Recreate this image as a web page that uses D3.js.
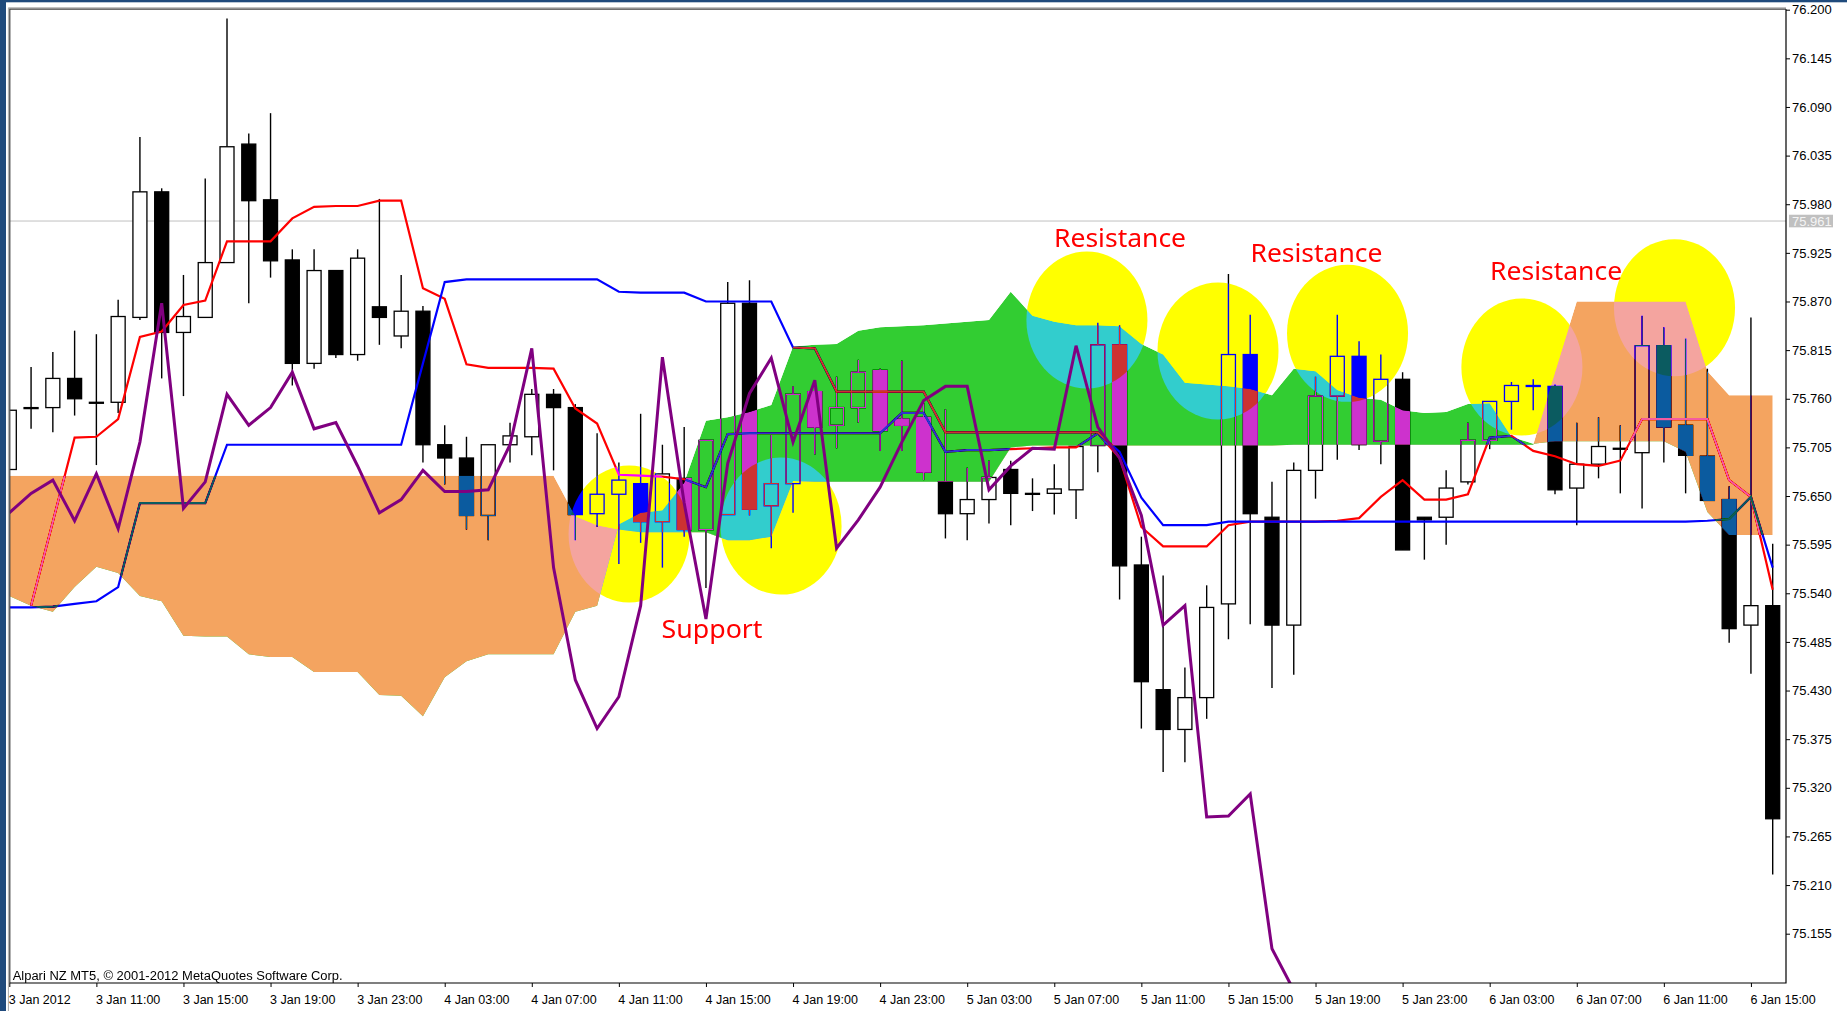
<!DOCTYPE html>
<html>
<head>
<meta charset="utf-8">
<script src="https://cdn.jsdelivr.net/npm/d3@7"></script>
<style>
  html, body { margin: 0; padding: 0; background: #fff; }
  svg { display: block; }
</style>
</head>
<body>
<svg id="chart" width="1847" height="1011"></svg>
<script>
const timeLabels = ['3 Jan 2012', '3 Jan 11:00', '3 Jan 15:00', '3 Jan 19:00', '3 Jan 23:00',
  '4 Jan 03:00', '4 Jan 07:00', '4 Jan 11:00', '4 Jan 15:00', '4 Jan 19:00', '4 Jan 23:00',
  '5 Jan 03:00', '5 Jan 07:00', '5 Jan 11:00', '5 Jan 15:00', '5 Jan 19:00', '5 Jan 23:00',
  '6 Jan 03:00', '6 Jan 07:00', '6 Jan 11:00', '6 Jan 15:00'];
const labelStep = 4; // one time label every 4 hourly bars

const priceTicks = [76.200, 76.145, 76.090, 76.035, 75.980, 75.925, 75.870, 75.815, 75.760, 75.705,
  75.650, 75.595, 75.540, 75.485, 75.430, 75.375, 75.320, 75.265, 75.210, 75.155];
const lastPrice = 75.961;

const opens = [75.680, 75.750, 75.750, 75.783, 75.756, 75.756, 75.852, 75.994, 75.835, 75.852,
  75.914, 76.048, 75.985, 75.917, 75.800, 75.905, 75.810, 75.864, 75.831, 75.859,
  75.708, 75.693, 75.628, 75.708, 75.717, 75.765, 75.750, 75.630, 75.652, 75.664,
  75.621, 75.670, 75.612, 75.629, 75.868, 75.639, 75.664, 75.768, 75.730, 75.750,
  75.792, 75.737, 75.739, 75.666, 75.630, 75.646, 75.680, 75.653, 75.653, 75.657,
  75.707, 75.821, 75.572, 75.431, 75.386, 75.422, 75.528, 75.810, 75.626, 75.504,
  75.679, 75.763, 75.808, 75.712, 75.782, 75.626, 75.626, 75.666, 75.713, 75.757,
  75.775, 75.774, 75.659, 75.686, 75.704, 75.699, 75.820, 75.730, 75.695, 75.646,
  75.504, 75.526];
const highs = [75.747, 75.796, 75.813, 75.837, 75.833, 75.872, 76.056, 75.998, 75.900, 76.009,
  76.190, 76.060, 76.083, 75.929, 75.929, 75.905, 75.929, 75.986, 75.900, 75.865,
  75.730, 75.717, 75.708, 75.733, 75.771, 75.771, 75.754, 75.721, 75.688, 75.743,
  75.708, 75.728, 75.713, 75.892, 75.894, 75.719, 75.774, 75.781, 75.785, 75.804,
  75.794, 75.803, 75.755, 75.748, 75.682, 75.690, 75.690, 75.670, 75.686, 75.706,
  75.846, 75.843, 75.604, 75.560, 75.456, 75.549, 75.901, 75.855, 75.666, 75.688,
  75.785, 75.855, 75.825, 75.810, 75.790, 75.626, 75.679, 75.733, 75.757, 75.779,
  75.782, 75.776, 75.733, 75.739, 75.730, 75.854, 75.841, 75.828, 75.794, 75.661,
  75.852, 75.596];
const lows = [75.680, 75.726, 75.722, 75.741, 75.685, 75.744, 75.849, 75.783, 75.763, 75.852,
  75.914, 75.868, 75.897, 75.775, 75.794, 75.806, 75.803, 75.821, 75.817, 75.688,
  75.663, 75.612, 75.600, 75.688, 75.696, 75.679, 75.600, 75.615, 75.573, 75.597,
  75.569, 75.604, 75.546, 75.629, 75.628, 75.591, 75.631, 75.697, 75.704, 75.733,
  75.701, 75.701, 75.668, 75.602, 75.600, 75.619, 75.617, 75.633, 75.629, 75.624,
  75.677, 75.533, 75.387, 75.338, 75.349, 75.398, 75.488, 75.505, 75.433, 75.448,
  75.647, 75.691, 75.702, 75.686, 75.589, 75.578, 75.595, 75.663, 75.703, 75.725,
  75.747, 75.652, 75.617, 75.670, 75.653, 75.636, 75.688, 75.653, 75.645, 75.484,
  75.449, 75.222];
const closes = [75.747, 75.750, 75.783, 75.760, 75.756, 75.853, 75.994, 75.835, 75.853, 75.914,
  76.045, 75.984, 75.916, 75.800, 75.905, 75.810, 75.919, 75.852, 75.859, 75.708,
  75.693, 75.628, 75.708, 75.718, 75.765, 75.750, 75.629, 75.652, 75.668, 75.621,
  75.675, 75.612, 75.713, 75.868, 75.635, 75.664, 75.765, 75.728, 75.750, 75.790,
  75.724, 75.730, 75.677, 75.630, 75.646, 75.671, 75.653, 75.653, 75.658, 75.706,
  75.821, 75.571, 75.440, 75.386, 75.422, 75.524, 75.810, 75.630, 75.504, 75.679,
  75.763, 75.808, 75.708, 75.782, 75.589, 75.623, 75.659, 75.713, 75.757, 75.775,
  75.775, 75.657, 75.686, 75.706, 75.704, 75.820, 75.728, 75.696, 75.645, 75.500,
  75.526, 75.285];

// Ichimoku lines, one value per bar
const tenkan = [null, 75.526, 75.621, 75.716, 75.717, 75.737, 75.830, 75.836, 75.866, 75.871,
  75.938, 75.938, 75.938, 75.964, 75.977, 75.978, 75.978, 75.984, 75.984, 75.885,
  75.873, 75.799, 75.795, 75.795, 75.795, 75.794, 75.749, 75.732, 75.674, 75.673,
  75.672, 75.669, 75.660, 75.720, 75.721, 75.721, 75.721, 75.721, 75.721, 75.721,
  75.721, 75.744, 75.744, 75.700, 75.702, 75.702, 75.703, 75.704, 75.705, 75.705,
  75.721, 75.693, 75.615, 75.593, 75.593, 75.593, 75.617, 75.621, 75.621, 75.621,
  75.621, 75.622, 75.625, 75.649, 75.668, 75.646, 75.646, 75.652, 75.716, 75.718,
  75.701, 75.695, 75.686, 75.684, 75.690, 75.737, 75.737, 75.737, 75.737, 75.668,
  75.649, 75.544];
const kijun = [75.524, 75.524, 75.525, 75.528, 75.531, 75.547, 75.642, 75.642, 75.642, 75.642,
  75.708, 75.708, 75.708, 75.708, 75.708, 75.708, 75.708, 75.708, 75.708, 75.800,
  75.892, 75.895, 75.895, 75.895, 75.895, 75.895, 75.895, 75.895, 75.881, 75.880,
  75.880, 75.880, 75.870, 75.870, 75.870, 75.870, 75.818, 75.817, 75.768, 75.768,
  75.768, 75.768, 75.768, 75.722, 75.722, 75.722, 75.722, 75.722, 75.722, 75.722,
  75.722, 75.700, 75.648, 75.617, 75.617, 75.617, 75.621, 75.621, 75.621, 75.621,
  75.621, 75.621, 75.621, 75.621, 75.621, 75.621, 75.621, 75.621, 75.621, 75.621,
  75.621, 75.621, 75.621, 75.621, 75.621, 75.621, 75.621, 75.621, 75.622, 75.624,
  75.649, 75.569];
const chikou = [75.631, 75.653, 75.668, 75.622, 75.675, 75.613, 75.711, 75.868, 75.636, 75.666,
  75.765, 75.730, 75.750, 75.790, 75.726, 75.733, 75.684, 75.631, 75.646, 75.679,
  75.655, 75.655, 75.657, 75.708, 75.817, 75.569, 75.442, 75.387, 75.423, 75.526,
  75.807, 75.642, 75.511, 75.687, 75.766, 75.806, 75.711, 75.781, 75.591, 75.623,
  75.660, 75.711, 75.758, 75.774, 75.774, 75.657, 75.684, 75.704, 75.703, 75.820,
  75.728, 75.693, 75.628, 75.504, 75.526, 75.287, 75.288, 75.313, 75.138, 75.091];
const spanA = [75.537, 75.526, 75.519, 75.547, 75.570, 75.563, 75.537, 75.531, 75.492, 75.491,
  75.491, 75.471, 75.468, 75.468, 75.451, 75.451, 75.451, 75.425, 75.424, 75.401,
  75.445, 75.463, 75.471, 75.471, 75.471, 75.471, 75.519, 75.526, 75.618, 75.631,
  75.634, 75.665, 75.735, 75.739, 75.745, 75.753, 75.819, 75.821, 75.822, 75.837,
  75.841, 75.842, 75.843, 75.845, 75.847, 75.849, 75.881, 75.854, 75.847, 75.843,
  75.843, 75.842, 75.822, 75.810, 75.778, 75.776, 75.774, 75.771, 75.764, 75.794,
  75.791, 75.770, 75.761, 75.759, 75.747, 75.744, 75.745, 75.754, 75.755, 75.717,
  75.709, 75.712, 75.712, 75.712, 75.712, 75.712, 75.712, 75.700, 75.632, 75.606,
  75.606, 75.606];
const spanB = [75.673, 75.673, 75.673, 75.673, 75.673, 75.673, 75.673, 75.673, 75.673, 75.673,
  75.673, 75.673, 75.673, 75.673, 75.673, 75.673, 75.673, 75.673, 75.673, 75.673,
  75.673, 75.673, 75.673, 75.673, 75.673, 75.673, 75.627, 75.617, 75.612, 75.609,
  75.609, 75.609, 75.609, 75.600, 75.600, 75.604, 75.667, 75.666, 75.666, 75.666,
  75.666, 75.666, 75.666, 75.666, 75.666, 75.666, 75.705, 75.707, 75.707, 75.707,
  75.707, 75.707, 75.707, 75.707, 75.707, 75.707, 75.707, 75.707, 75.707, 75.708,
  75.708, 75.708, 75.708, 75.708, 75.708, 75.708, 75.708, 75.708, 75.708, 75.708,
  75.708, 75.790, 75.870, 75.870, 75.870, 75.870, 75.870, 75.870, 75.791, 75.764,
  75.764, 75.764];

// drawn ellipses (bar index / price anchored) and their captions
const zoneBars = [28.47, 35.45, 49.50, 55.52, 61.47, 69.48, 76.49];
const zonePrices = [75.607, 75.616, 75.849, 75.814, 75.834, 75.796, 75.863];
const zoneHalfBars = 2.78;
const zoneHalfPrice = 0.0775;
const notes = ['Resistance', 'Resistance', 'Resistance', 'Support'];
const noteBars = [47.99, 57.01, 68.02, 29.96];
const notePrices = [75.932, 75.915, 75.894, 75.489];

const W = 1847, H = 1011;
const plot = { left: 9.8, right: 1786, top: 9.2, bottom: 983 };
const axisFont = '"Liberation Sans", Arial, sans-serif';

const x = d3.scaleLinear().domain([0, opens.length - 1]).range([9.3, 1772.7]);
const y = d3.scaleLinear().domain([75.155, 76.200]).range([933.7, 9.7]);

const svg = d3.select('#chart');
svg.append('rect').attr('width', W).attr('height', H).attr('fill', '#fff');

// window frame
svg.append('rect').attr('x', 0).attr('y', 0).attr('width', W).attr('height', 2.3).attr('fill', '#1f4a7c');
svg.append('rect').attr('x', 0).attr('y', 0).attr('width', 6).attr('height', H).attr('fill', '#1f4a7c');

const defs = svg.append('defs');
defs.append('clipPath').attr('id', 'plotClip')
  .append('rect')
  .attr('x', plot.left).attr('y', plot.top)
  .attr('width', plot.right - plot.left).attr('height', plot.bottom - plot.top);

const below = d3.area().x((d, i) => x(i)).y0(plot.bottom + 100).y1(d => y(d));
defs.append('clipPath').attr('id', 'clipA').append('path').attr('d', below(spanA));
defs.append('clipPath').attr('id', 'clipB').append('path').attr('d', below(spanB));

const g = svg.append('g').attr('clip-path', 'url(#plotClip)');
g.append('rect')
  .attr('x', plot.left).attr('y', plot.top)
  .attr('width', plot.right - plot.left).attr('height', plot.bottom - plot.top)
  .attr('fill', '#fff');

// last price line
g.append('line')
  .attr('x1', plot.left).attr('x2', plot.right)
  .attr('y1', y(lastPrice)).attr('y2', y(lastPrice))
  .attr('stroke', '#c0c0c0').attr('stroke-width', 1);

// candles
const bars = opens.map((o, i) => ({ i, o, h: highs[i], l: lows[i], c: closes[i] }));
const bodyWidth = 14;

g.selectAll('.wick')
  .data(bars)
  .enter()
  .append('line')
  .attr('class', 'wick')
  .attr('x1', d => x(d.i)).attr('x2', d => x(d.i))
  .attr('y1', d => y(d.h)).attr('y2', d => y(d.l))
  .attr('stroke', '#000').attr('stroke-width', 1.4);

g.selectAll('.body')
  .data(bars)
  .enter()
  .append('rect')
  .attr('class', 'body')
  .attr('x', d => x(d.i) - bodyWidth / 2)
  .attr('width', bodyWidth)
  .attr('y', d => y(Math.max(d.o, d.c)))
  .attr('height', d => Math.max(1, Math.abs(y(d.o) - y(d.c))))
  .attr('fill', d => d.c < d.o ? '#000' : '#fff')
  .attr('stroke', '#000')
  .attr('stroke-width', 1.3);

const line = d3.line()
  .defined(d => d != null)
  .x((d, i) => x(i))
  .y(d => y(d));

g.append('path').datum(tenkan).attr('d', line)
  .attr('fill', 'none').attr('stroke', '#ff0000').attr('stroke-width', 2.2);
g.append('path').datum(kijun).attr('d', line)
  .attr('fill', 'none').attr('stroke', '#0000ff').attr('stroke-width', 2.2);

// cloud, painted the MT5 way (xor): inverse colour + difference blend
const band = d3.area().x((d, i) => x(i)).y0((d, i) => y(spanB[i])).y1(d => y(d));

g.append('path').datum(spanA).attr('d', band)
  .attr('clip-path', 'url(#clipA)')
  .attr('fill', '#cd32cd')
  .style('mix-blend-mode', 'difference');

g.append('path').datum(spanA).attr('d', band)
  .attr('clip-path', 'url(#clipB)')
  .attr('fill', '#0b5b9f')
  .style('mix-blend-mode', 'difference');

// yellow zones
g.selectAll('.zone')
  .data(zoneBars)
  .enter()
  .append('ellipse')
  .attr('class', 'zone')
  .attr('cx', d => x(d))
  .attr('cy', (d, k) => y(zonePrices[k]))
  .attr('rx', d => x(d + zoneHalfBars) - x(d))
  .attr('ry', (d, k) => y(zonePrices[k] - zoneHalfPrice) - y(zonePrices[k]))
  .attr('fill', '#0000ff')
  .style('mix-blend-mode', 'difference');

g.append('path').datum(chikou).attr('d', line)
  .attr('fill', 'none').attr('stroke', '#800080').attr('stroke-width', 3);

g.selectAll('.note')
  .data(notes)
  .enter()
  .append('text')
  .attr('class', 'note')
  .attr('x', (d, k) => x(noteBars[k]))
  .attr('y', (d, k) => y(notePrices[k]))
  .attr('fill', '#ff0000')
  .attr('font-family', '"Noto Sans", "Open Sans", sans-serif')
  .attr('font-size', 26)
  .attr('textLength', d => d === 'Support' ? 101 : 132)
  .attr('lengthAdjust', 'spacingAndGlyphs')
  .text(d => d);

g.append('text')
  .attr('x', 12.7).attr('y', 979.5)
  .attr('font-family', axisFont).attr('font-size', 12.5)
  .attr('textLength', 330).attr('lengthAdjust', 'spacingAndGlyphs')
  .attr('fill', '#000')
  .text('Alpari NZ MT5, \u00a9 2001-2012 MetaQuotes Software Corp.');

// plot border
svg.append('path')
  .attr('d', `M${plot.left - 1.4},${H} V${plot.top - 1.4} H${plot.right}`)
  .attr('fill', 'none').attr('stroke', '#a8a8a8').attr('stroke-width', 1);
svg.append('path')
  .attr('d', `M${plot.left},${plot.bottom} V${plot.top} H${plot.right}`)
  .attr('fill', 'none').attr('stroke', '#404040').attr('stroke-width', 1.2);
svg.append('path')
  .attr('d', `M${plot.left},${plot.bottom} H${plot.right} V${plot.top}`)
  .attr('fill', 'none').attr('stroke', '#000').attr('stroke-width', 1.2);

// price axis
const yAxis = svg.append('g')
  .attr('transform', `translate(${plot.right},0)`)
  .call(d3.axisRight(y).tickValues(priceTicks).tickSize(4).tickPadding(2).tickFormat(d3.format('.3f')));
yAxis.select('.domain').remove();
yAxis.selectAll('line').attr('stroke', '#000');
yAxis.selectAll('text')
  .attr('font-family', axisFont).attr('font-size', 13).attr('fill', '#000');

// last price tag
const tagY = y(lastPrice);
svg.append('rect')
  .attr('x', plot.right + 3).attr('y', tagY - 6.3)
  .attr('width', 44).attr('height', 12.6)
  .attr('fill', '#c0c0c0');
svg.append('text')
  .attr('x', plot.right + 6).attr('y', tagY).attr('dy', '0.36em')
  .attr('font-family', axisFont).attr('font-size', 13)
  .attr('fill', '#f4f4f4')
  .text(lastPrice.toFixed(3));

// time axis
const xAxis = svg.append('g')
  .attr('transform', `translate(0,${plot.bottom})`)
  .call(d3.axisBottom(x)
    .tickValues(timeLabels.map((d, k) => k * labelStep))
    .tickSize(4)
    .tickFormat((d, k) => timeLabels[k]));
xAxis.select('.domain').remove();
xAxis.selectAll('line').attr('stroke', '#000');
xAxis.selectAll('text')
  .attr('text-anchor', 'start')
  .attr('x', -1)
  .attr('y', 12.5)
  .attr('font-family', axisFont).attr('font-size', 12.5).attr('fill', '#000');
</script>
</body>
</html>
